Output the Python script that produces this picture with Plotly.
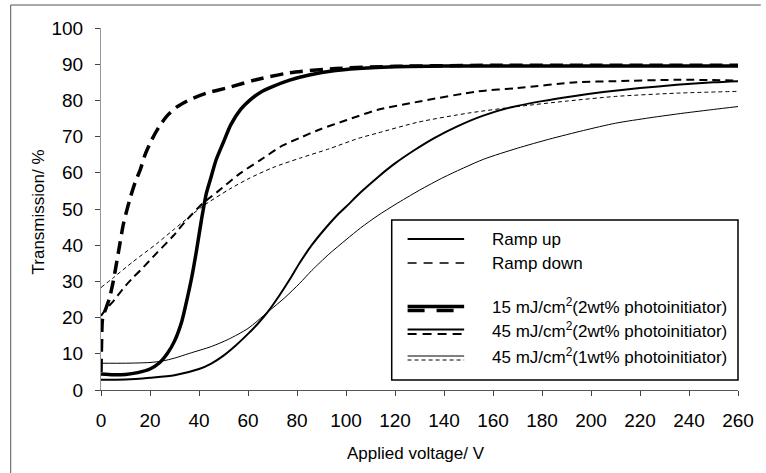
import plotly.graph_objects as go

# ---------------- data ----------------
v_15_up = [0, 5, 10, 15, 20, 24, 27, 30, 33, 35, 37, 39, 41, 43, 45, 47, 50, 53, 57, 61, 65, 70, 77, 85, 95, 105, 120, 140, 170, 200, 230, 260]
t_15_up = [4.4, 4.2, 4.3, 4.8, 5.8, 7.6, 10, 13.5, 19, 24.7, 31, 38.6, 47, 54.3, 59, 63.6, 68.5, 73.3, 77.5, 80.2, 82.2, 83.8, 85.6, 87, 88.2, 88.8, 89.3, 89.5, 89.5, 89.5, 89.5, 89.5]

v_15_down = [0, 0.2, 0.7, 2, 3.5, 5, 7, 9.2, 11.9, 14, 16, 18, 20.7, 23.5, 26.8, 31, 36.2, 43, 51.1, 63.3, 76.8, 95.7, 120, 160, 200, 260]
t_15_down = [5, 12, 20, 22.5, 25.5, 30, 37.6, 46, 53, 57.5, 60.8, 65, 69.1, 72.5, 75.6, 78.2, 80.2, 82, 83.4, 85.7, 87.6, 88.8, 89.4, 89.7, 89.7, 89.7]

v_45_2_up = [0, 10, 20, 30, 40, 45, 50, 55, 60, 64, 68, 73, 77, 81, 86, 91, 96, 100, 106, 113, 120, 128, 136, 145, 156, 168, 180, 192, 205, 220, 235, 250, 260]
t_45_2_up = [2.8, 2.9, 3.4, 4.1, 5.8, 7.3, 9.5, 12.3, 15.5, 18.3, 21.5, 26.3, 30.5, 35, 40, 44.2, 48, 50.6, 54.6, 58.8, 62.6, 66.3, 69.6, 72.7, 75.8, 78.2, 79.8, 81.1, 82.3, 83.4, 84.3, 85, 85.3]

v_45_2_down = [0, 2, 5, 9, 13, 16, 22.7, 29.5, 35, 41.6, 48, 56.5, 65, 74, 81, 89, 100, 113, 130, 154, 170, 194, 210, 235, 260]
t_45_2_down = [20.5, 22.3, 24.5, 28, 31, 33, 37.8, 42.6, 47, 51.6, 55, 59.7, 63.5, 67.5, 69.6, 71.9, 74.5, 77.4, 79.7, 82.5, 83.4, 85, 85.3, 85.7, 85.5]

v_45_1_up = [0, 10, 20, 25, 30, 36, 45, 52, 60, 68, 75, 81, 86, 93, 100, 106, 113, 120, 130, 140, 156, 170, 183, 197, 210, 224, 238, 250, 260]
t_45_1_up = [7.4, 7.4, 7.6, 8.0, 8.8, 10.1, 12, 14, 17, 21.5, 25.5, 29.4, 33, 37.5, 41.5, 44.8, 48.2, 51.2, 55.2, 58.8, 63.7, 66.8, 69.3, 71.7, 73.7, 75.2, 76.5, 77.5, 78.3]

v_45_1_down = [0, 5, 13, 22.7, 30, 41.6, 52.5, 60, 70, 81, 93, 105, 113, 129.5, 150, 170, 190, 210, 235, 260]
t_45_1_down = [28.3, 31, 35.4, 40.4, 44.5, 50.8, 55.5, 58.3, 61.4, 64, 66.6, 69.5, 71, 74, 76.5, 78.3, 79.8, 81.1, 82, 82.5]

x_ticks = list(range(0, 261, 20))
y_ticks = list(range(0, 101, 10))

legend_labels = ["Ramp up", "Ramp down",
                 "15 mJ/cm<sup>2</sup>(2wt% photoinitiator)",
                 "45 mJ/cm<sup>2</sup>(2wt% photoinitiator)",
                 "45 mJ/cm<sup>2</sup>(1wt% photoinitiator)"]

# ---------------- figure ----------------
W, H = 766, 473
L, R, T, B = 101, 23, 28, 83
PW, PH = W - L - R, H - T - B


def px(xp):
    return (xp - L) / PW


def py(yp):
    return (H - B - yp) / PH


FONT = "Liberation Sans, Arial, sans-serif"

series = [
    (v_15_up, t_15_up, 3.5, "solid"),
    (v_15_down, t_15_down, 3.5, "13px,7px"),
    (v_45_2_up, t_45_2_up, 2, "solid"),
    (v_45_2_down, t_45_2_down, 2, "8px,5px"),
    (v_45_1_up, t_45_1_up, 1, "solid"),
    (v_45_1_down, t_45_1_down, 1, "4px,3px"),
]

fig = go.Figure()
for xs, ys, w, d in series:
    fig.add_trace(go.Scatter(x=xs, y=ys, mode="lines",
                             line=dict(color="black", width=w, dash=d, shape="spline", smoothing=0.7),
                             showlegend=False, hoverinfo="skip"))

shapes = []
# outer frame (scanned figure border)
shapes.append(dict(type="line", xref="paper", yref="paper", x0=px(10), x1=px(766), y0=py(5), y1=py(5),
                   line=dict(color="#555", width=1)))
shapes.append(dict(type="line", xref="paper", yref="paper", x0=px(10), x1=px(10), y0=py(5), y1=py(473),
                   line=dict(color="#555", width=1)))
# legend box
shapes.append(dict(type="rect", xref="paper", yref="paper", x0=px(394), x1=px(743), y0=py(380), y1=py(220),
                   line=dict(color="black", width=1.5), fillcolor="white", layer="above"))

lx0, lx1 = px(410), px(467)
samples = [
    [(239, 2, "solid")],
    [(263, 1.5, "9px,7px")],
    [(306.5, 3.5, "solid"), (310.5, 3.5, "17px,12px")],
    [(329.5, 2, "solid"), (334, 2, "9px,6px")],
    [(356, 1, "solid"), (360, 1, "4px,3px")],
]
for row in samples:
    for yy, w, d in row:
        shapes.append(dict(type="line", xref="paper", yref="paper", x0=lx0, x1=lx1, y0=py(yy), y1=py(yy),
                           line=dict(color="black", width=w, dash=d), layer="above"))

annotations = []
text_rows = [239, 263, 306, 330, 356]
for lab, yy in zip(legend_labels, text_rows):
    annotations.append(dict(xref="paper", yref="paper", x=px(493), y=py(yy), text=lab, showarrow=False,
                            xanchor="left", yanchor="middle", font=dict(family=FONT, size=17, color="black")))

annotations.append(dict(xref="paper", yref="paper", x=px(418), y=py(453), text="Applied voltage/ V",
                        showarrow=False, xanchor="center", yanchor="middle",
                        font=dict(family=FONT, size=17, color="black")))
annotations.append(dict(xref="paper", yref="paper", x=px(38), y=py(212), text="Transmission/ %",
                        showarrow=False, xanchor="center", yanchor="middle", textangle=-90,
                        font=dict(family=FONT, size=17, color="black")))

fig.update_layout(
    width=W, height=H,
    margin=dict(l=L, r=R, t=T, b=B, pad=0),
    paper_bgcolor="white", plot_bgcolor="white",
    shapes=shapes, annotations=annotations,
    font=dict(family=FONT, size=17, color="black"),
    xaxis=dict(range=[0, 260], tickvals=x_ticks, ticks="outside", ticklen=5, tickcolor="#444",
               showline=True, linecolor="#555", linewidth=1, showgrid=False, zeroline=False,
               ticklabelstandoff=8, tickfont=dict(family=FONT, size=19, color="black")),
    yaxis=dict(range=[0, 100], tickvals=y_ticks, ticks="outside", ticklen=5, tickcolor="#444",
               showline=True, linecolor="#999", linewidth=1, showgrid=False, zeroline=False,
               ticklabelstandoff=8, tickfont=dict(family=FONT, size=19, color="black")),
)

fig.write_html("out.html")
